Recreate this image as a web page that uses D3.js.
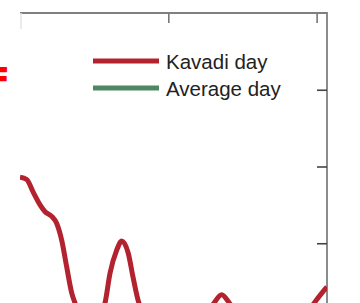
<!DOCTYPE html>
<meta charset="utf-8">
<style>
  body { margin: 0; background: #fff; }
  text { font-family: "Liberation Sans", Arial, sans-serif; fill: #222; }
  .spine { stroke: #808080; stroke-width: 1.8; fill: none; }
  .tick line { stroke: #444; stroke-width: 1.6; }
</style>
<svg id="chart" width="360" height="303"></svg>
<script src="https://cdnjs.cloudflare.com/ajax/libs/d3/7.8.5/d3.min.js"></script>
<script>
// hour of day vs value (parts below the crop estimated)
var kavadiHours  = [0, 0.45, 0.88, 1.35, 1.69, 2.14, 2.47, 2.81, 3.15, 3.49, 3.71, 4.7, 5.73, 6.07, 6.52, 6.86, 7.3, 7.62, 8.02, 9.5, 11.5, 13.0, 13.6, 14.2, 16.5, 18.5, 19.76, 20.43, 20.7];
var kavadiValues = [1.86, 1.83, 1.67, 1.5, 1.41, 1.35, 1.26, 1.04, 0.69, 0.35, 0.22, -0.2, 0.22, 0.61, 0.91, 1.03, 0.87, 0.56, 0.22, -0.2, -0.2, 0.2, 0.33, 0.2, -0.2, -0.2, 0.2, 0.37, 0.43];
var seriesNames  = ["Kavadi day", "Average day"];
var seriesColors = ["#b3232f", "#4d8862"];
var xTicks = [10, 20];
var yTicks = [1, 2, 3];

var svg = d3.select("#chart");
var mLeft = 20, mRight = 327, mTop = 13, mBottom = 320;

var x = d3.scaleLinear().domain([0, 20.7]).range([mLeft, mRight]);
var y = d3.scaleLinear().domain([0, 4]).range([mBottom, mTop]);

// cut off red heading on the left edge
svg.append("text")
    .attr("x", 7).attr("y", 88)
    .attr("text-anchor", "end")
    .style("font-size", "30px").style("font-weight", "bold")
    .style("fill", "#ff0000")
    .style("stroke", "#ff0000").style("stroke-width", 2)
    .text("F");

// frame: top + right spine, faint left
svg.append("path").attr("class", "spine")
    .attr("d", "M" + mLeft + "," + mTop + "H" + mRight + "V" + 303);
svg.append("line")
    .attr("x1", mLeft + 1).attr("x2", mLeft + 1)
    .attr("y1", mTop).attr("y2", mTop + 16)
    .style("stroke", "#e4e4e4").style("stroke-width", 1.5);

// top ticks (inward)
svg.append("g").attr("class", "tick")
    .attr("transform", "translate(0," + mTop + ")")
    .call(d3.axisBottom(x).tickValues(xTicks).tickSize(10).tickFormat(""))
    .call(function(g){ g.select(".domain").remove(); g.selectAll("line").style("stroke", "#777"); });

// right ticks (inward)
svg.append("g").attr("class", "tick")
    .attr("transform", "translate(" + mRight + ",0)")
    .call(d3.axisLeft(y).tickValues(yTicks).tickSize(10).tickFormat(""))
    .call(function(g){ g.select(".domain").remove(); });

svg.append("clipPath").attr("id", "plotclip")
    .append("rect").attr("x", mLeft).attr("y", mTop).attr("width", mRight - mLeft).attr("height", mBottom - mTop);

var line = d3.line()
    .x(function(d){ return x(d[0]); })
    .y(function(d){ return y(d[1]); })
    .curve(d3.curveMonotoneX);

var kavadi = kavadiHours.map(function(h, i){ return [h, kavadiValues[i]]; });

svg.append("path")
    .datum(kavadi)
    .attr("clip-path", "url(#plotclip)")
    .attr("fill", "none")
    .attr("stroke", seriesColors[0])
    .attr("stroke-width", 5)
    .attr("stroke-linejoin", "round")
    .attr("d", line);

// legend
var legend = svg.append("g");
var lg = legend.selectAll("g").data(seriesNames).enter().append("g")
    .attr("transform", function(d, i){ return "translate(93," + (61 + i * 27) + ")"; });
lg.append("line")
    .attr("x1", 0).attr("x2", 66)
    .attr("stroke", function(d, i){ return seriesColors[i]; })
    .attr("stroke-width", 5);
lg.append("text")
    .attr("x", 73).attr("y", 7.5)
    .style("font-size", "20.5px")
    .text(function(d){ return d; });
</script>
